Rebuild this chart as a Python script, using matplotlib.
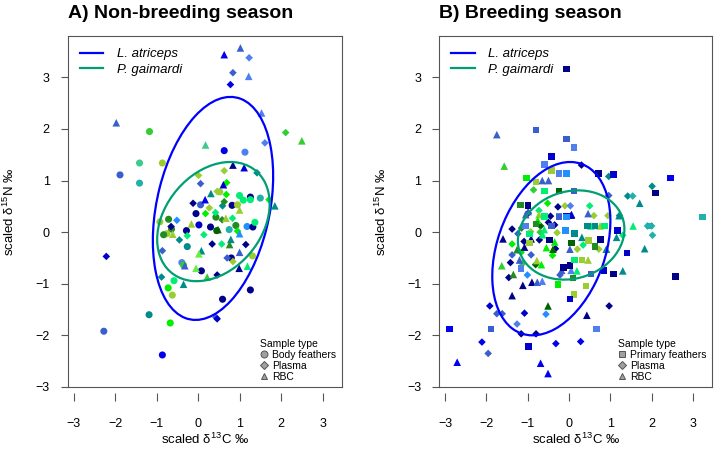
import matplotlib
matplotlib.use("Agg")
import matplotlib.pyplot as plt
from matplotlib.lines import Line2D
from matplotlib.patches import Ellipse
import numpy as np

plt.rcParams["font.family"] = ["Liberation Sans", "DejaVu Sans"]
plt.rcParams["mathtext.default"] = "regular"

# colour per individual (codes -> hex)
pal = {
    "nv": "#00008B", "db": "#0000CD", "bl": "#0000EE", "rb": "#3A5FCD",
    "cf": "#4F7FEE", "dd": "#1E90FF", "dc": "#008B8B", "tl": "#20B2AA",
    "sg": "#00EE76", "aq": "#3CCB8A", "lm": "#00EE00", "gr": "#32CD32",
    "lg": "#66EE44", "fg": "#228B22", "dg": "#006400", "yg": "#9ACD32",
}

# ---- A) Non-breeding season ----
nb_c13 = [0.63, 1.02, 1.23, 0.84, 0.78, 1.22, -1.97, -1.17, 1.53, 2.11, 2.50, 0.18, 0.63, 1.13,
          1.61, -1.88, -1.41, -1.41, -0.86, 0.84, 1.11, 1.42, 0.01, 0.63, 0.06, 0.69, 0.61, 0.31,
          0.46, 0.52, 0.68, 1.00, 1.26, 1.50, 1.71, 1.85, 1.09, -0.12, 0.06, 0.17, -0.05, 0.18,
          0.27, 0.59, 0.63, 0.82, 0.95, 1.00, 0.42, -0.92, -0.71, -0.51, -0.65, -0.64, -0.75,
          -0.83, -0.61, -0.45, -0.28, -0.26, -0.26, -0.16, 0.02, 0.14, 0.34, 0.08, 0.02, 0.48,
          0.45, 0.43, 0.67, 0.58, 0.75, 0.57, 0.91, 0.79, 0.76, 1.00, 1.18, 1.32, 1.37, 0.83,
          1.15, 1.00, 0.70, 0.80, 0.84, 1.31, 0.99, 1.19, -0.39, -0.32, -0.35, -0.05, 0.08, 0.46,
          0.22, -0.86, -0.88, -0.58, -0.35, -0.72, -0.62, 1.26, 0.59, 0.43, 0.46, -1.18, -0.67,
          -2.21, -2.27, -0.86, 1.26, 0.95, 0.30]
nb_n15 = [3.44, 3.57, 3.38, 3.09, 2.86, 3.02, 2.12, 1.95, 2.31, 1.93, 1.77, 1.69, 1.58, 1.55,
          1.73, 1.11, 1.34, 0.95, 1.34, 1.30, 1.25, 1.15, 1.10, 1.19, 0.94, 0.96, 0.92, 0.75,
          0.79, 0.78, 0.73, 0.71, 0.68, 0.66, 0.63, 0.51, 0.62, 0.56, 0.53, 0.63, 0.36, 0.36,
          0.47, 0.51, 0.59, 0.52, 0.53, 0.43, 0.38, 0.20, 0.25, 0.23, 0.11, 0.06, -0.03,
          -0.05, -0.04, -0.15, 0.03, -0.07, -0.28, 0.16, 0.14, -0.05, -0.23, -0.36, -0.42, 0.05,
          0.03, 0.29, 0.27, 0.24, 0.05, -0.23, 0.13, -0.14, -0.24, -0.03, 0.11, 0.10, 0.19, 0.27,
          -0.24, -0.39, -0.50, -0.50, -0.57, -0.46, -0.70, -0.66, -0.59, -0.65, -0.64, -0.70, -0.75, -0.83,
          -0.87, -0.36, -0.87, -0.94, -1.01, -1.08, -1.22, -1.12, -1.30, -1.65, -1.68, -1.60, -1.76,
          -0.47, -1.92, -2.38, 0.63, 0.02, 0.10]
nb_type = ["T", "T", "D", "D", "D", "T", "T", "C", "T", "D", "T", "T", "C", "C",
           "D", "C", "C", "C", "C", "T", "T", "D", "D", "D", "D", "D", "T", "T",
           "D", "C", "D", "C", "C", "C", "D", "T", "C", "D", "C", "T", "C", "D",
           "D", "D", "D", "C", "C", "T", "D", "C", "C", "D", "D", "C", "C",
           "C", "T", "D", "C", "D", "C", "T", "C", "D", "D", "T", "T", "T",
           "C", "C", "T", "D", "C", "D", "C", "T", "T", "T", "C", "C", "C", "D",
           "D", "T", "D", "C", "D", "C", "T", "T", "C", "T", "C", "T", "C", "D",
           "T", "D", "D", "C", "T", "C", "C", "C", "C", "D", "D", "C", "C",
           "D", "C", "C", "C", "D", "C"]
nb_col = ["bl", "rb", "cf", "rb", "bl", "cf", "rb", "gr", "cf", "gr", "gr", "aq", "bl", "cf",
          "cf", "rb", "aq", "tl", "yg", "nv", "db", "dc", "yg", "yg", "rb", "lm", "db", "dc",
          "yg", "yg", "lm", "sg", "nv", "tl", "lm", "dc", "sg", "nv", "rb", "bl", "nv", "lm",
          "yg", "dc", "fg", "nv", "yg", "yg", "sg", "yg", "fg", "dd", "nv", "fg", "yg",
          "fg", "yg", "dc", "nv", "sg", "dc", "yg", "db", "sg", "nv", "dc", "lg", "dg",
          "dg", "fg", "yg", "fg", "tl", "sg", "fg", "dc", "fg", "dd", "dd", "nv", "sg", "sg",
          "nv", "rb", "rb", "nv", "yg", "yg", "nv", "sg", "cf", "rb", "gr", "lg", "nv", "nv",
          "gr", "rb", "dc", "sg", "dc", "lm", "yg", "nv", "nv", "rb", "db", "dc", "lm",
          "db", "rb", "bl", "sg", "lm", "nv"]

# ---- B) Breeding season ----
br_c13 = [-0.06, -1.75, -0.80, -0.06, 0.12, -0.43, -1.57, -0.60, -0.43, 0.30, 0.71, 1.07, 0.96,
          -0.25, -0.06, -1.03, -0.80, -0.65, -0.50, -0.86, -0.60, -0.25, 0.12, 0.96, 1.42, 1.54,
          1.71, 2.01, 2.09, 2.45, 3.23, -1.18, -0.99, -0.99, -0.52, -0.27, -0.10, 0.03, 0.50,
          0.46, 0.60, 0.94, 1.21, -0.73, -0.60, -0.45, -0.25, -0.06, 0.05, -0.99, -1.05, -0.73,
          -0.76, -0.69, -0.50, -0.43, -0.64, -1.38, -1.24, -0.93, -1.15, -1.05, -1.60, -1.09,
          -0.92, -0.96, -0.72, -0.96, -1.38, -1.38, -1.26, -1.16, -1.08, -0.92, -1.42, -1.20,
          -1.13, -1.16, -1.63, -0.78, -0.67, -0.81, -1.01, -1.46, -1.35, -1.12, -0.90, -0.77,
          -0.65, -1.38, -1.92, -1.75, -1.62, -1.08, -1.26, -1.16, -0.80, -1.89, -2.90, -2.11,
          -1.96, -2.71, -0.98, -0.69, -0.51, -0.32, 0.28, 0.67, 0.43, 0.97, -0.56, -0.51, 0.12,
          0.02, 0.41, -0.27, -0.14, 0.02, 0.10, -0.18, -0.22, 0.05, 0.19, 0.13, 0.31, 0.46, 0.53,
          0.85, 1.07, 1.30, 1.40, 1.83, 2.58, 2.02, 1.90, 2.00, 1.95, 1.55, 1.30, 1.15, 1.17,
          0.63, 0.45, 0.75, 0.53, 0.72, 0.91, 0.63, 0.76, 0.47, 0.31, 0.34, 0.20, 0.06, 0.02,
          0.13, -0.09, -0.35, -0.33, -0.39, -0.35, -0.29, -0.25, -0.06, 0.06, 1.22, -0.80, -0.60,
          -0.55, -0.40, 0.86, 0.90, -0.47, -0.70]
br_n15 = [3.16, 1.89, 1.98, 1.81, 1.64, 1.47, 1.28, 1.31, 1.19, 1.30, 1.14, 1.12, 1.08,
          1.14, 1.14, 1.05, 0.97, 1.00, 1.00, 0.82, 0.80, 0.80, 0.80, 0.71, 0.70, 0.70,
          0.56, 0.89, 0.76, 1.05, 0.29, 0.53, 0.52, 0.40, 0.56, 0.49, 0.51, 0.51, 0.51,
          0.36, 0.32, 0.32, 0.32, 0.42, 0.30, 0.31, 0.31, 0.31, 0.33, 0.37, 0.34, 0.34,
          0.23, 0.12, 0.19, 0.12, -0.05, 0.06, -0.03, 0.01, 0.08, 0.12, -0.13, -0.18,
          -0.13, -0.04, -0.15, -0.21, -0.23, -0.44, -0.34, -0.39, -0.29, -0.44, -0.59, -0.54,
          -0.61, -0.70, -0.65, -0.55, -0.63, -0.63, -0.83, -0.88, -0.82, -1.03, -0.97, -0.97,
          -0.95, -1.23, -1.43, -1.58, -1.58, -1.57, -1.78, -1.97, -1.97, -1.88, -1.88, -2.13,
          -2.35, -2.52, -2.22, -2.54, -2.74, -2.16, -2.12, -1.88, -1.61, -1.43, -1.59, -1.43, -1.21,
          -1.30, -1.04, -1.01, -0.68, -0.65, -0.89, -0.74, -0.83, -0.74, -0.75, -0.54, -0.54, -0.54, -0.81,
          -0.74, -0.81, -0.75, -0.40, -0.32, -0.86, -0.06, 0.12, 0.12, 0.12, 0.12, -0.06, -0.10, 0.03,
          0.12, 0.12, 0.12, 0.12, -0.33, -0.33, -0.28, -0.14, -0.16, -0.10, -0.25, -0.33, -0.21, -0.33,
          -0.03, 0.03, -0.19, -0.32, -0.33, 0.14, -0.01, 0.29, 0.29, 0.34, 0.32, 0.16, 0.05,
          -0.30, -0.45, 0.12, -0.33, -0.15, 0.00]
br_type = ["S", "T", "S", "S", "S", "S", "T", "S", "S", "D", "S", "S", "D",
           "S", "S", "S", "S", "T", "T", "D", "S", "S", "S", "D", "D", "D",
           "T", "D", "S", "S", "S", "S", "S", "T", "D", "D", "D", "D", "D",
           "T", "D", "D", "T", "D", "S", "D", "S", "S", "T", "D", "T", "T",
           "T", "D", "D", "S", "T", "D", "D", "D", "D", "S", "T", "D",
           "T", "S", "D", "S", "D", "D", "T", "D", "T", "D", "D", "T",
           "D", "S", "T", "T", "T", "D", "D", "D", "T", "T", "T", "T",
           "T", "T", "D", "D", "D", "D", "D", "D", "D", "S", "S", "D",
           "D", "T", "S", "T", "T", "D", "D", "S", "T", "D", "D", "T", "S",
           "S", "S", "S", "S", "S", "S", "T", "D", "T", "T", "S", "S", "T", "S",
           "S", "S", "T", "S", "T", "S", "D", "D", "D", "S", "T", "D", "T", "S",
           "S", "S", "T", "T", "D", "T", "S", "S", "S", "T", "D", "D", "S", "T",
           "S", "S", "T", "D", "T", "D", "D", "S", "S", "T", "D", "S", "T",
           "T", "D", "S", "T", "S", "D"]
br_col = ["nv", "rb", "rb", "rb", "cf", "db", "gr", "cf", "yg", "nv", "nv", "db", "dc",
          "cf", "dd", "lm", "yg", "rb", "rb", "gr", "sg", "dg", "rb", "rb", "dc", "tl",
          "dc", "dc", "nv", "bl", "tl", "fg", "nv", "rb", "lm", "nv", "yg", "cf", "sg",
          "rb", "yg", "yg", "dc", "sg", "sg", "nv", "cf", "db", "db", "nv", "rb", "yg",
          "lm", "dg", "nv", "rb", "sg", "nv", "rb", "yg", "fg", "cf", "nv", "nv",
          "nv", "sg", "nv", "yg", "lm", "rb", "fg", "lm", "nv", "rb", "nv", "rb",
          "gr", "cf", "gr", "yg", "lm", "dg", "dd", "nv", "fg", "nv", "nv", "rb",
          "cf", "nv", "db", "rb", "rb", "db", "cf", "nv", "nv", "rb", "bl", "bl",
          "rb", "bl", "db", "bl", "bl", "bl", "bl", "cf", "nv", "nv", "dd", "dg", "yg",
          "db", "yg", "lm", "nv", "nv", "fg", "rb", "rb", "cf", "sg", "sg", "yg", "yg", "rb",
          "db", "nv", "dc", "db", "dc", "nv", "tl", "tl", "tl", "tl", "sg", "sg", "dc", "db",
          "dc", "dc", "yg", "sg", "yg", "yg", "fg", "nv", "yg", "dc", "sg", "yg", "dg", "rb",
          "dc", "dd", "lm", "nv", "dg", "nv", "yg", "rb", "dd", "db", "dc", "fg", "sg",
          "lm", "lm", "sg", "dc", "nv", "gr"]

# standard ellipses: centre (x, y) and shape matrix [sxx, sxy, syy]
nb_ell_center = {"L. atriceps": (0.36, 0.46), "P. gaimardi": (0.37, 0.205)}
nb_ell_shape = {"L. atriceps": (2.10, 0.907, 4.67), "P. gaimardi": (1.836, 0.468, 1.334)}
br_ell_center = {"L. atriceps": (-0.43, -0.32), "P. gaimardi": (0.05, -0.055)}
br_ell_shape = {"L. atriceps": (2.045, 0.764, 2.822), "P. gaimardi": (1.664, 0.145, 0.748)}

species_col = {"L. atriceps": "#0000FF", "P. gaimardi": "#009E73"}
markers = {"C": ("o", 26), "D": ("D", 15), "T": ("^", 30), "S": ("s", 22)}


def add_ellipse(ax, center, shape, color):
    sxx, sxy, syy = shape
    vals, vecs = np.linalg.eigh(np.array([[sxx, sxy], [sxy, syy]]))
    angle = np.degrees(np.arctan2(vecs[1, 1], vecs[0, 1]))
    e = Ellipse(center, 2 * np.sqrt(vals[1]), 2 * np.sqrt(vals[0]), angle=angle,
                fill=False, edgecolor=color, linewidth=1.6, zorder=3)
    ax.add_patch(e)


def panel(ax, c13, n15, types, cols, centers, shapes, title, type_labels):
    c13 = np.array(c13)
    n15 = np.array(n15)
    types = np.array(types)
    cols = np.array([pal[c] for c in cols])
    for t, (m, s) in markers.items():
        sel = types == t
        if sel.any():
            ax.scatter(c13[sel], n15[sel], marker=m, s=s, c=cols[sel],
                       linewidths=0, zorder=2)
    for sp in centers:
        add_ellipse(ax, centers[sp], shapes[sp], species_col[sp])

    ax.set_xlim(-3.14, 3.46)
    ax.set_ylim(-3, 3.8)
    ax.set_yticks([-3, -2, -1, 0, 1, 2, 3])
    ax.tick_params(axis="y", length=5, width=0.8, color="#555555", pad=8, labelsize=9)
    ax.set_xticks([])
    sec = ax.secondary_xaxis(-0.017)
    sec.spines["bottom"].set_visible(False)
    sec.set_xticks([-3, -2, -1, 0, 1, 2, 3])
    sec.tick_params(length=6, width=0.8, color="#555555", pad=12, labelsize=9)
    for s in ax.spines.values():
        s.set_color("#555555")
        s.set_linewidth(0.8)

    ax.set_xlabel("scaled δ$^{13}$C ‰", fontsize=9.5, labelpad=32)
    ax.set_ylabel("scaled δ$^{15}$N ‰", fontsize=9.5, labelpad=13)
    ax.set_title(title, loc="left", fontsize=14, fontweight="bold", pad=13)

    sp_handles = [Line2D([], [], color=species_col[sp], lw=1.6) for sp in centers]
    leg1 = ax.legend(sp_handles, list(centers), loc="upper left", frameon=False,
                     prop={"style": "italic", "size": 9.5}, handlelength=1.8,
                     handletextpad=1.0, labelspacing=0.25, borderaxespad=0.5)
    ax.add_artist(leg1)

    ty_handles = [Line2D([], [], ls="", marker=markers[t][0], markersize=5 if t != "D" else 4.3,
                         markerfacecolor="#a0a0a0", markeredgecolor="#555555", markeredgewidth=0.7)
                  for t in type_labels]
    leg2 = ax.legend(ty_handles, list(type_labels.values()), loc="lower right", frameon=False,
                     title="Sample type", title_fontsize=7.5, fontsize=7.5, handlelength=0.8,
                     handletextpad=0.4, labelspacing=0.1, borderaxespad=0.3,
                     borderpad=0.2)
    leg2._legend_box.align = "left"
    leg2.get_title().set_ha("center")


fig = plt.figure(figsize=(7.18, 4.51), dpi=100)
ax1 = fig.add_axes([0.0943, 0.142, 0.3816, 0.778])
ax2 = fig.add_axes([0.612, 0.142, 0.3796, 0.778])

panel(ax1, nb_c13, nb_n15, nb_type, nb_col, nb_ell_center, nb_ell_shape,
      "A) Non-breeding season", {"C": "Body feathers", "D": "Plasma", "T": "RBC"})
panel(ax2, br_c13, br_n15, br_type, br_col, br_ell_center, br_ell_shape,
      "B) Breeding season", {"S": "Primary feathers", "D": "Plasma", "T": "RBC"})

fig.savefig("out.png", dpi=100)
